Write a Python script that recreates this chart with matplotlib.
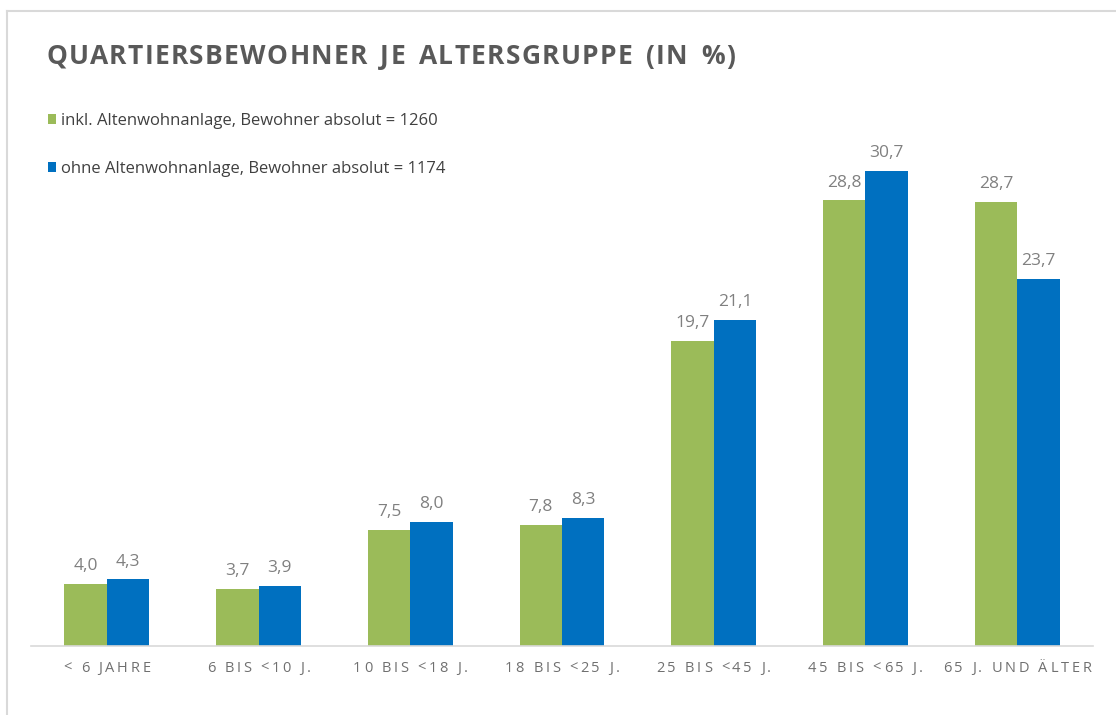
import matplotlib
matplotlib.use("Agg")
import matplotlib.pyplot as plt
from matplotlib.font_manager import FontProperties, findfont, get_font
from matplotlib.lines import Line2D
import numpy as np

# ---------------- data ----------------
categories = ["< 6 JAHRE", "6 BIS <10 J.", "10 BIS <18 J.", "18 BIS <25 J.",
              "25 BIS <45 J.", "45 BIS <65 J.", "65 J. UND ÄLTER"]
inkl_values = [4.0, 3.7, 7.5, 7.8, 19.7, 28.8, 28.7]
ohne_values = [4.3, 3.9, 8.0, 8.3, 21.1, 30.7, 23.7]
series_labels = ["inkl. Altenwohnanlage, Bewohner absolut = 1260",
                 "ohne Altenwohnanlage, Bewohner absolut = 1174"]
title = "QUARTIERSBEWOHNER JE ALTERSGRUPPE (IN %)"

# ---------------- style ----------------
W, H, DPI = 1116, 715, 100
GREEN = "#9BBB59"
BLUE = "#0070C0"
FONT = "Open Sans"
plt.rcParams["font.family"] = [FONT, "DejaVu Sans"]

fig = plt.figure(figsize=(W / DPI, H / DPI), dpi=DPI)
fig.patch.set_facecolor("white")

# chart border (light grey, partly outside the image)
fig.add_artist(Line2D([7 / W, 1.0], [1 - 11 / H, 1 - 11 / H], color="#D9D9D9", lw=1.5))
fig.add_artist(Line2D([7 / W, 7 / W], [0, 1 - 11 / H], color="#D9D9D9", lw=1.5))

# axes placement
ax_left, ax_right = 31, 1093
ax_bottom, ax_top = 646, 104.5
ax = fig.add_axes([ax_left / W, 1 - ax_bottom / H, (ax_right - ax_left) / W,
                   (ax_bottom - ax_top) / H])
x = np.arange(len(categories))
bw = 0.28
b1 = ax.bar(x - bw / 2, inkl_values, bw, color=GREEN, label=series_labels[0])
b2 = ax.bar(x + bw / 2, ohne_values, bw, color=BLUE, label=series_labels[1])
ax.set_xlim(-0.5, len(categories) - 0.5)
ax.set_ylim(0, 35)
for s in ["top", "right", "left"]:
    ax.spines[s].set_visible(False)
ax.spines["bottom"].set_color("#D9D9D9")
ax.spines["bottom"].set_linewidth(1.2)
ax.set_yticks([])
ax.set_xticks([])

for bars in (b1, b2):
    for r in bars:
        v = r.get_height()
        ax.annotate(f"{v:.1f}".replace(".", ","),
                    (r.get_x() + r.get_width() / 2, v),
                    xytext=(0, 10), textcoords="offset points",
                    ha="center", va="baseline", fontsize=12.5, color="#808080")


# ---------------- letter-spaced text helper ----------------
def spaced_text(xpx, ypx, s, size, spacing, color, weight="normal", ha="left",
                space_extra=0.0):
    prop = FontProperties(family=FONT, weight=weight, size=size)
    font = get_font(findfont(prop))
    font.set_size(size, DPI)
    adv = []
    for c in s:
        g = font.load_char(ord(c))
        a = g.linearHoriAdvance / 65536
        if c == " ":
            a += space_extra
        adv.append(a)
    total = sum(adv) + spacing * (len(s) - 1)
    if ha == "center":
        xpx = xpx - total / 2
    cx = xpx
    for c, a in zip(s, adv):
        if c != " ":
            fig.text(cx / W, 1 - ypx / H, c, fontproperties=prop, color=color,
                     ha="left", va="baseline")
        cx += a + spacing


# title
spaced_text(46, 64, title, 19, 1.3, "#595959", weight="bold", space_extra=4)

# category labels
for xi, lab in zip(x, categories):
    px = ax.transData.transform((xi, 0))[0]
    spaced_text(px, 672, lab, 10.5, 2.7, "#707070", ha="center")

# legend
leg = fig.legend(handles=[b1, b2], loc="upper left",
                 bbox_to_anchor=(48 / W, 1 - 113 / H), frameon=False,
                 fontsize=12, handlelength=0.5, handleheight=0.5,
                 handletextpad=0.3, labelspacing=1.9, labelcolor="#404040",
                 borderpad=0, borderaxespad=0)

fig.savefig("out.png", dpi=DPI, facecolor="white")
